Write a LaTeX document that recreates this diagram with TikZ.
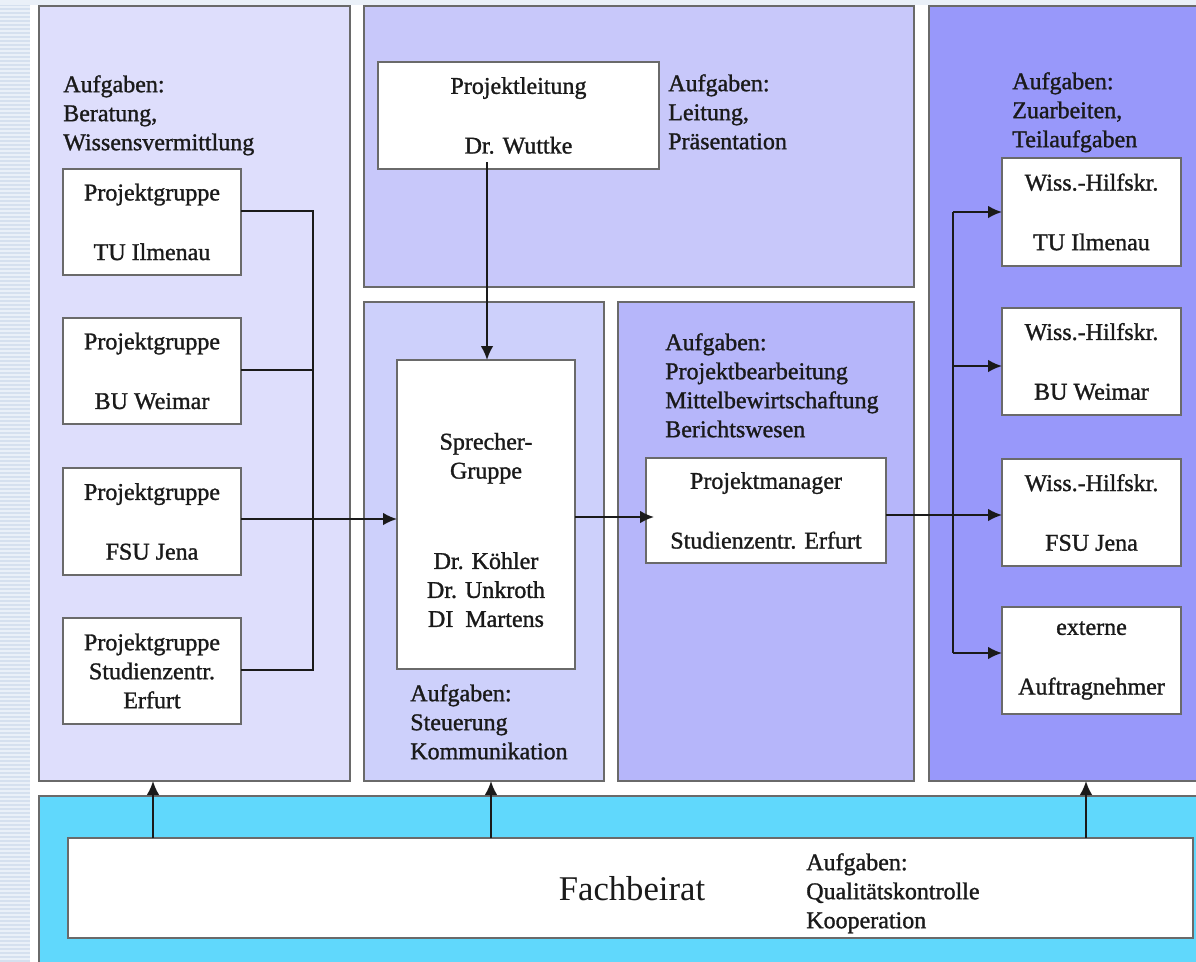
\documentclass[tikz,border=0pt]{standalone}
\usepackage{fontspec}
\setmainfont{Liberation Serif}[FakeBold=1.2]
\newfontfamily\plainserif{Liberation Serif}
\usetikzlibrary{arrows.meta}
\definecolor{pA}{HTML}{DEDEFC}
\definecolor{pB}{HTML}{C8C8FA}
\definecolor{pC}{HTML}{CDD0FB}
\definecolor{pD}{HTML}{B6B6FA}
\definecolor{pE}{HTML}{9898FA}
\definecolor{pF}{HTML}{60D8FC}
\definecolor{edgec}{HTML}{6A6A6A}
\definecolor{inkc}{HTML}{1A1A1A}
\definecolor{bgband}{HTML}{EAF0F8}
\definecolor{bgstripe}{HTML}{D5E0EF}
\newcommand\dfont{\fontsize{18}{21.75}\selectfont}
\tikzset{
  rect/.style n args={4}{anchor=north west, at={(#1,#2)},
    minimum width={(#3-#1)*0.75pt}, minimum height={(#4-#2)*0.75pt}},
  panel/.style={draw=edgec, line width=1.3pt, inner sep=0pt, outer sep=0pt},
  wbox/.style={draw=edgec, fill=white, line width=1.2pt, inner sep=0pt, outer sep=0pt,
    align=center, font=\dfont, text=inkc},
  aufg/.style={anchor=north west, inner sep=0pt, align=left, font=\dfont, text=inkc},
  ln/.style={draw=inkc, line width=1.4pt},
  ar/.style={draw=inkc, line width=1.4pt, -{Latex[length=10.5pt,width=9.5pt]}},
}
\begin{document}
\begin{tikzpicture}[x=0.75pt, y=-0.75pt]
\useasboundingbox (0,0) rectangle (1196,961);
% background
\fill[white] (0,0) rectangle (1196,961);
\fill[bgband] (0,0) rectangle (30,961);
\foreach \yy in {0,4,...,960} { \fill[bgstripe] (0,\yy) rectangle (30,\yy+2); }
\fill[bgband] (0,0) rectangle (1196,5);
% panels
\node[panel, fill=pA, rect={39}{6}{350}{781}] (p1) {};
\node[panel, fill=pB, rect={364}{6}{914}{287}] (p2) {};
\node[panel, fill=pC, rect={364}{302}{604}{781}] (p3) {};
\node[panel, fill=pD, rect={618}{302}{914}{781}] (p4) {};
\node[panel, fill=pE, rect={929}{6}{1215}{781}] (p5) {};
\node[panel, fill=pF, rect={39}{796}{1215}{985}] (p6) {};
% task texts
\node[aufg] (t1) at (63,75) {Aufgaben:\\Beratung,\\Wissensvermittlung};
\node[aufg] (t2) at (668,74) {Aufgaben:\\Leitung,\\Präsentation};
\node[aufg] (t3) at (1012,72) {Aufgaben:\\Zuarbeiten,\\Teilaufgaben};
\node[aufg] (t4) at (665,333) {Aufgaben:\\Projektbearbeitung\\Mittelbewirtschaftung\\Berichtswesen};
\node[aufg] (t5) at (410,684) {Aufgaben:\\Steuerung\\Kommunikation};
% left boxes
\node[wbox, rect={63}{169}{241}{275}] (lg1) {Projektgruppe\\[23pt]TU Ilmenau};
\node[wbox, rect={63}{318}{241}{424}] (lg2) {Projektgruppe\\[23pt]BU Weimar};
\node[wbox, rect={63}{468}{241}{575}] (lg3) {Projektgruppe\\[23pt]FSU Jena};
\node[wbox, rect={63}{618}{241}{724}] (lg4) {Projektgruppe\\Studienzentr.\\Erfurt};
% middle boxes
\node[wbox, rect={378}{62}{659}{169}] (pl) {Projektleitung\\[23pt]Dr. Wuttke};
\node[wbox, rect={397}{360}{575}{669}] (spr) {};
\node[inner sep=0pt, align=center, font=\dfont, text=inkc] (sprt) at (486,530)
  {Sprecher-\\Gruppe\\[46pt]Dr. Köhler\\Dr. Unkroth\\DI\ \ Martens};
\node[wbox, rect={646}{458}{886}{563}] (pm) {Projektmanager\\[23pt]Studienzentr. Erfurt};
% right boxes
\node[wbox, rect={1002}{158}{1181}{266}] (w1) {Wiss.-Hilfskr.\\[23pt]TU Ilmenau};
\node[wbox, rect={1002}{308}{1181}{415}] (w2) {Wiss.-Hilfskr.\\[23pt]BU Weimar};
\node[wbox, rect={1002}{459}{1181}{566}] (w3) {Wiss.-Hilfskr.\\[23pt]FSU Jena};
\node[wbox, rect={1002}{607}{1181}{714}] (w4) {externe\\[23pt]Auftragnehmer};
% Fachbeirat
\node[wbox, rect={68}{838}{1193}{938}] (fach) {};
\node[inner sep=0pt, font=\plainserif\fontsize{26}{30}\selectfont, text=inkc] (facht) at (632,889) {Fachbeirat};
\node[aufg] (t6) at (806,853) {Aufgaben:\\Qualitätskontrolle\\Kooperation};
% left bus
\coordinate (b1) at (313,211);
\coordinate (b2) at (313,370);
\coordinate (b3) at (313,519);
\coordinate (b4) at (313,670);
\draw[ln] (lg1.east |- b1) -- (b1) -- (b4) -- (lg4.east |- b4);
\draw[ln] (lg2.east |- b2) -- (b2);
\draw[ar] (lg3.east |- b3) -- (spr.west |- b3);
% Projektleitung -> Sprecher
\coordinate (wt) at (487,162);
\draw[ar] (wt) -- (wt |- spr.north);
% Sprecher -> Projektmanager
\coordinate (m1) at (575,517);
\draw[ar, shorten >=-6pt] (spr.east |- m1) -- (pm.west |- m1);
% Projektmanager -> right boxes
\coordinate (r0) at (953,515);
\coordinate (rb1) at (953,212);
\coordinate (rb2) at (953,366);
\coordinate (rb4) at (953,653);
\draw[ar] (pm.east |- r0) -- (w3.west |- r0);
\draw[ln] (rb1) -- (rb4);
\draw[ar] (rb1) -- (w1.west |- rb1);
\draw[ar] (rb2) -- (w2.west |- rb2);
\draw[ar] (rb4) -- (w4.west |- rb4);
% Fachbeirat -> panels
\coordinate (u1) at (153,838);
\coordinate (u2) at (491,838);
\coordinate (u3) at (1086,838);
\draw[ar] (fach.north -| u1) -- (p1.south -| u1);
\draw[ar] (fach.north -| u2) -- (p3.south -| u2);
\draw[ar] (fach.north -| u3) -- (p5.south -| u3);
\end{tikzpicture}
\end{document}
